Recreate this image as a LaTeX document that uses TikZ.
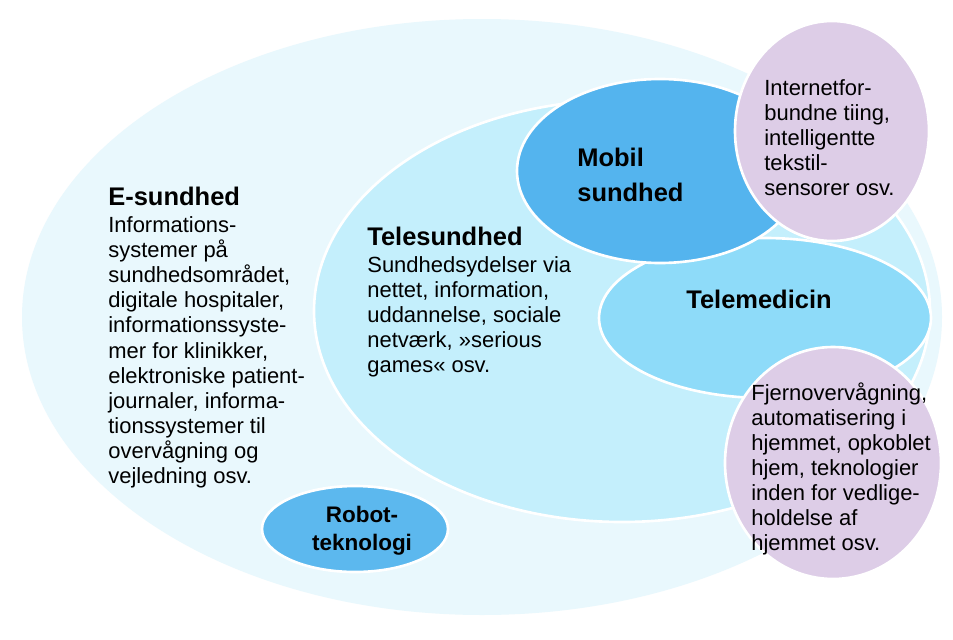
\documentclass[tikz,border=0pt]{standalone}
\usepackage{fontspec}
\setmainfont{Liberation Sans}
\usepackage{xcolor}
\usetikzlibrary{positioning}
\definecolor{esundblue}{RGB}{233,248,253}
\definecolor{teleblue}{RGB}{196,239,252}
\definecolor{mobilblue}{RGB}{84,180,238}
\definecolor{medicinblue}{RGB}{142,219,249}
\definecolor{robotblue}{RGB}{92,184,238}
\definecolor{lilac}{RGB}{221,205,231}

\begin{document}
\begin{tikzpicture}[x=0.02cm, y=-0.02cm,
    area/.style={draw=white, line width=1.5pt},
    title/.style={font=\fontsize{14.5}{19.5}\selectfont\bfseries, inner sep=0pt, align=left},
    desc/.style={font=\fontsize{12.5}{14.3}\selectfont, inner sep=0pt, align=left}]
    \useasboundingbox[fill=white] (0,0) rectangle (953,639);

    % E-sundhed (outer area)
    \fill[esundblue] (482,317) ellipse [x radius=460, y radius=298];
    % Telesundhed
    \filldraw[area, fill=teleblue] (622,311) ellipse [x radius=308, y radius=211];
    % Telemedicin
    \filldraw[area, fill=medicinblue] (765,318) ellipse [x radius=166, y radius=80];
    % Mobil sundhed
    \filldraw[area, fill=mobilblue] (660,171) ellipse [x radius=143, y radius=92];
    % lilac side areas
    \filldraw[area, fill=lilac] (832,131) ellipse [x radius=97, y radius=110];
    \filldraw[area, fill=lilac] (833,463) ellipse [x radius=108, y radius=116];
    % Robotteknologi
    \filldraw[area, fill=robotblue] (355,529) ellipse [x radius=93, y radius=43];

    % texts
    \node[title, anchor=base west] (ehead) at (108,205) {E-sundhed};
    \node[desc, below=6pt of ehead.south west, anchor=north west] (ebody)
        {Informations-\\systemer på\\sundhedsområdet,\\digitale hospitaler,\\informationssyste-\\mer for klinikker,\\elektroniske patient-\\journaler, informa-\\tionssystemer til\\overvågning og\\vejledning osv.};

    \node[title, anchor=base west] (telehead) at (367,245) {Telesundhed};
    \node[desc, below=6pt of telehead.south west, anchor=north west] (telebody)
        {Sundhedsydelser via\\nettet, information,\\uddannelse, sociale\\netværk, »serious\\games« osv.};

    \node[title, anchor=north west] (mobil) at (577,148) {Mobil\\sundhed};
    \node[title, anchor=base] (telemed) at (759,308) {Telemedicin};

    \node[desc, anchor=north west] (things) at (764,79)
        {Internetfor-\\bundne tiing,\\intelligentte\\tekstil-\\sensorer osv.};
    \node[desc, anchor=north west] (remote) at (751,382)
        {Fjernovervågning,\\automatisering i\\hjemmet, opkoblet\\hjem, teknologier\\inden for vedlige-\\holdelse af\\hjemmet osv.};

    \node[title, font=\fontsize{12.8}{16}\selectfont\bfseries, align=center, anchor=north] (robot) at (362,506)
        {Robot-\\teknologi};
\end{tikzpicture}
\end{document}
